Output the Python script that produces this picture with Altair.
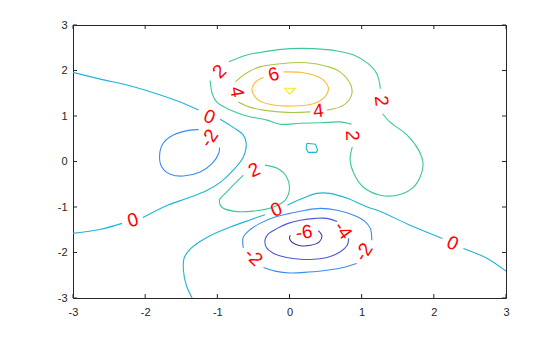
import altair as alt
import pandas as pd

# ---- data (data coordinates) ----
x_ticks = [-3, -2, -1, 0, 1, 2, 3]
y_ticks = [-3, -2, -1, 0, 1, 2, 3]

levels = ["-6", "-4", "-2", "0", "2", "4", "6", "8"]
level_colors = ["#46379f", "#4d58dc", "#3a8cf0", "#1fb3da", "#3fc69c", "#aec64a", "#f8bb3c", "#f1ed1c"]

# level 0
zero_a = [(-3.0, 1.96), (-2.62, 1.81), (-2.25, 1.68), (-1.79, 1.46), (-1.44, 1.26), (-1.26, 1.13)]
zero_b = [(-0.96, 0.93), (-0.78, 0.75), (-0.64, 0.58), (-0.60, 0.40), (-0.64, 0.10), (-0.78, -0.19),
          (-0.96, -0.46), (-1.14, -0.63), (-1.42, -0.81), (-1.69, -0.96), (-2.03, -1.23)]
zero_c = [(-2.32, -1.36), (-2.62, -1.49), (-3.0, -1.58)]
zero_d = [(-1.35, -3.0), (-1.43, -2.72), (-1.47, -2.39), (-1.46, -2.12), (-1.38, -1.93), (-1.24, -1.76),
          (-1.10, -1.63), (-0.82, -1.44), (-0.54, -1.28), (-0.34, -1.17)]
zero_e = [(-0.03, -0.96), (0.15, -0.83), (0.38, -0.70), (0.56, -0.70), (0.80, -0.81), (1.08, -1.00),
          (1.26, -1.10), (1.67, -1.40), (2.12, -1.69)]
zero_f = [(2.41, -1.91), (2.74, -2.13), (3.0, -2.41)]
zero_loop = [(0.24, 0.40), (0.36, 0.38), (0.39, 0.25), (0.37, 0.20), (0.26, 0.20), (0.23, 0.29), (0.24, 0.40)]

# level -2
m2_left = [(-1.26, 0.70), (-1.38, 0.69), (-1.61, 0.58), (-1.75, 0.40), (-1.80, 0.14), (-1.77, -0.12),
           (-1.65, -0.28), (-1.47, -0.32), (-1.24, -0.23), (-1.07, -0.04), (-0.98, 0.18), (-0.97, 0.31)]
m2_top = [(-0.64, -1.90), (-0.64, -1.66), (-0.54, -1.49), (-0.41, -1.36), (-0.20, -1.22), (0.01, -1.14),
          (0.22, -1.07), (0.43, -1.03), (0.66, -1.07), (0.89, -1.18), (1.04, -1.31), (1.12, -1.47), (1.14, -1.73)]
m2_bottom = [(0.93, -2.24), (0.74, -2.33), (0.52, -2.39), (0.26, -2.43), (0.01, -2.45), (-0.20, -2.41), (-0.36, -2.33)]

# level -4
m4 = [(0.82, -1.69), (0.80, -1.84), (0.70, -1.99), (0.52, -2.11), (0.33, -2.15), (0.15, -2.15), (-0.04, -2.11),
      (-0.22, -2.02), (-0.32, -1.89), (-0.34, -1.73), (-0.30, -1.60), (-0.17, -1.47), (-0.02, -1.36),
      (0.15, -1.29), (0.36, -1.25), (0.52, -1.25), (0.66, -1.32)]

# level -6
m6 = [(0.40, -1.52), (0.45, -1.64), (0.41, -1.77), (0.29, -1.84), (0.15, -1.85), (0.04, -1.78), (0.00, -1.69), (0.01, -1.62)]

# level 2
p2_top = [(-0.84, 2.19), (-0.59, 2.34), (-0.36, 2.41), (0.01, 2.48), (0.33, 2.48), (0.66, 2.43), (0.89, 2.34),
          (1.09, 2.15), (1.21, 1.93), (1.26, 1.60)]
p2_lobe = [(1.29, 1.05), (1.39, 0.87), (1.63, 0.58), (1.79, 0.25), (1.85, -0.04), (1.81, -0.34), (1.70, -0.59),
           (1.49, -0.74), (1.26, -0.74), (1.02, -0.56), (0.89, -0.26), (0.84, 0.03), (0.87, 0.32)]
p2_under = [(0.86, 0.82), (0.70, 0.87), (0.43, 0.85), (0.15, 0.84), (-0.13, 0.82), (-0.31, 0.91), (-0.59, 1.00),
            (-0.82, 1.13), (-1.01, 1.31), (-1.07, 1.49), (-1.10, 1.78)]
p2_center = [(-0.34, -0.08), (-0.17, -0.15), (-0.04, -0.34), (0.00, -0.59), (-0.06, -0.85), (-0.22, -1.00),
             (-0.50, -1.09), (-0.78, -1.09), (-0.94, -1.00), (-0.97, -0.85), (-0.89, -0.70), (-0.78, -0.52), (-0.64, -0.30)]

# level 4
p4_a = [(-0.71, 1.31), (-0.54, 1.19), (-0.36, 1.13), (-0.04, 1.08), (0.29, 1.09)]
p4_b = [(0.52, 1.13), (0.75, 1.24), (0.86, 1.46), (0.85, 1.68), (0.70, 1.97), (0.52, 2.09), (0.24, 2.17),
        (-0.13, 2.15), (-0.41, 2.08), (-0.59, 1.95), (-0.75, 1.75)]

# level 6
p6 = [(-0.08, 1.97), (0.15, 1.96), (0.33, 1.90), (0.47, 1.79), (0.54, 1.60), (0.49, 1.42), (0.33, 1.27),
      (0.06, 1.22), (-0.22, 1.24), (-0.43, 1.35), (-0.52, 1.57), (-0.48, 1.73), (-0.36, 1.85)]

# level 8
p8 = [(-0.07, 1.61), (0.08, 1.61), (0.00, 1.48), (-0.07, 1.61)]

# contour labels: text, x, y, rotation (deg, clockwise)
label_text = ["2", "4", "6", "4", "2", "2", "0", "-2", "2", "0", "-6", "-4", "-2", "-2", "0", "0"]
label_x = [-0.97, -0.73, -0.22, 0.40, 1.27, 0.87, -1.11, -1.11, -0.49, -0.18, 0.20, 0.74, -0.50, 1.03, -2.17, 2.26]
label_y = [1.98, 1.53, 1.91, 1.11, 1.33, 0.57, 0.98, 0.51, -0.19, -1.06, -1.56, -1.51, -2.10, -1.99, -1.29, -1.80]
label_angle = [315, 80, 344, 354, 84, 88, 22, 305, 335, 338, 352, 55, 45, 303, 344, 25]

segments = [
    ("0", "zero_a", zero_a), ("0", "zero_b", zero_b), ("0", "zero_c", zero_c),
    ("0", "zero_d", zero_d), ("0", "zero_e", zero_e), ("0", "zero_f", zero_f),
    ("-2", "m2_left", m2_left), ("-2", "m2_top", m2_top), ("-2", "m2_bottom", m2_bottom),
    ("-4", "m4", m4), ("-6", "m6", m6),
    ("2", "p2_top", p2_top), ("2", "p2_lobe", p2_lobe), ("2", "p2_under", p2_under), ("2", "p2_center", p2_center),
    ("4", "p4_a", p4_a), ("4", "p4_b", p4_b), ("6", "p6", p6),
]
straight_segments = [("0", "zero_loop", zero_loop), ("8", "p8", p8)]


def to_frame(segs):
    rows = []
    for lvl, name, pts in segs:
        for i, (x, y) in enumerate(pts):
            rows.append({"lvl": lvl, "seg": name, "i": i, "x": x, "y": y})
    return pd.DataFrame(rows)


curves = to_frame(segments)
straights = to_frame(straight_segments)
labels = pd.DataFrame({"t": label_text, "x": label_x, "y": label_y, "a": label_angle})
xt = pd.DataFrame({"x": x_ticks})
yt = pd.DataFrame({"y": y_ticks})

W, H = 433, 273
AX = "#262626"
xs = alt.Scale(domain=[-3, 3], nice=False, zero=False)
ys = alt.Scale(domain=[-3, 3], nice=False, zero=False)
cs = alt.Color("lvl:N", scale=alt.Scale(domain=levels, range=level_colors), legend=None)

x_axis = alt.Axis(values=x_ticks, ticks=False, tickSize=0, domain=False, grid=False, title=None,
                  labelFont="Liberation Sans", labelFontSize=11, labelColor=AX, labelPadding=8,
                  labelFlush=False, labelOverlap=False, labelExpr="'' + datum.value")
y_axis = alt.Axis(values=y_ticks, ticks=False, tickSize=0, domain=False, grid=False, title=None,
                  labelFont="Liberation Sans", labelFontSize=11, labelColor=AX, labelPadding=6,
                  labelFlush=False, labelOverlap=False, labelExpr="'' + datum.value")

X = alt.X("x:Q", scale=xs, axis=x_axis)
Y = alt.Y("y:Q", scale=ys, axis=y_axis)

lines = alt.Chart(curves).mark_line(interpolate="catmull-rom", strokeWidth=1.1, clip=True).encode(
    x=X, y=Y, color=cs, detail="seg:N", order="i:Q",
)
lines2 = alt.Chart(straights).mark_line(strokeWidth=1.1).encode(
    x=X, y=Y, color=cs, detail="seg:N", order="i:Q",
)
text = alt.Chart(labels).mark_text(font="Liberation Sans", fontSize=19, color="#ff0000",
                                   align="center", baseline="middle").encode(
    x=X, y=Y, text="t:N", angle=alt.Angle("a:Q", scale=None),
)
tick_b = alt.Chart(xt).mark_rule(color=AX, strokeWidth=1).encode(
    x=X, y=alt.value(H), y2=alt.value(H - 4))
tick_t = alt.Chart(xt).mark_rule(color=AX, strokeWidth=1).encode(
    x=X, y=alt.value(0), y2=alt.value(4))
tick_l = alt.Chart(yt).mark_rule(color=AX, strokeWidth=1).encode(
    y=Y, x=alt.value(0), x2=alt.value(4))
tick_r = alt.Chart(yt).mark_rule(color=AX, strokeWidth=1).encode(
    y=Y, x=alt.value(W), x2=alt.value(W - 4))

chart = alt.layer(lines, lines2, text, tick_b, tick_t, tick_l, tick_r).properties(
    width=W, height=H,
    autosize=alt.AutoSizeParams(type="none"),
    padding={"left": 73, "top": 25, "right": 54, "bottom": 39},
    background="white",
).configure_view(stroke=AX, strokeWidth=1)

chart.save("out.html", embed_options={"renderer": "svg", "actions": False})
